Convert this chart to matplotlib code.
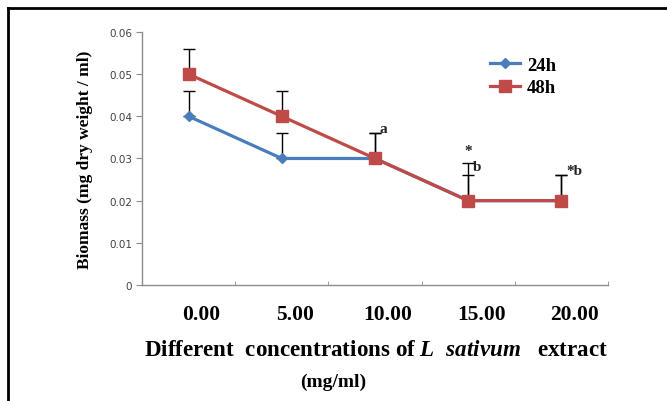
import matplotlib
matplotlib.use('Agg')
import matplotlib.pyplot as plt
import matplotlib.transforms as mtransforms
from matplotlib.lines import Line2D

# data
concentrations = ['0.00', '5.00', '10.00', '15.00', '20.00']
biomass_24h = [0.040, 0.030, 0.030, 0.020, 0.020]
biomass_48h = [0.050, 0.040, 0.030, 0.020, 0.020]
err_24h = [0.006, 0.006, 0.006, 0.009, 0.006]
err_48h = [0.006, 0.006, 0.006, 0.006, 0.006]
letters = [(2, 'a', 0.0372), (3, '*', 0.0318), (3, 'b', 0.0282), (4, '*b', 0.0272)]

serif = ['Liberation Serif', 'DejaVu Serif']
plt.rcParams['mathtext.fontset'] = 'custom'
plt.rcParams['mathtext.it'] = 'Liberation Serif:italic:bold'
plt.rcParams['mathtext.rm'] = 'Liberation Serif:bold'

fig = plt.figure(figsize=(6.67, 4.02), dpi=100)
ax = fig.add_axes([0.2129, 0.2886, 0.6986, 0.6294])

x = [i + 0.5 for i in range(len(concentrations))]

# upward-only error bars
ax.errorbar(x, biomass_24h, yerr=[[0] * 5, err_24h], fmt='none', ecolor='black',
            elinewidth=1, capsize=4, capthick=1, zorder=2)
ax.errorbar(x, biomass_48h, yerr=[[0] * 5, err_48h], fmt='none', ecolor='black',
            elinewidth=1, capsize=4, capthick=1, zorder=2)

ax.plot(x, biomass_24h, color='#4a7ebb', lw=2.3, marker='D', ms=5, label='24h', zorder=3)
ax.plot(x, biomass_48h, color='#be4b48', lw=2.3, marker='s', ms=8, label='48h', zorder=4)

# significance letters
for i, txt, yv in letters:
    dx = 0.05 if txt != '*' else 0.0
    ax.text(x[i] + dx, yv, txt, family=serif, fontweight='bold', fontsize=11,
            ha='left' if txt != '*' else 'center', va='center', color='#222222')

ax.set_xlim(0, 5)
ax.set_ylim(0, 0.06)
ax.set_yticks([0, 0.01, 0.02, 0.03, 0.04, 0.05, 0.06])
ax.set_yticklabels(['0', '0.01', '0.02', '0.03', '0.04', '0.05', '0.06'])
ax.tick_params(axis='y', length=4, color='#8c8c8c', labelsize=7.5, labelcolor='#404048', pad=3)

ax.set_xticks(x)
ax.set_xticklabels(concentrations, family=serif, fontweight='bold', fontsize=15.5)
ax.set_xticks(range(6), minor=True)
ax.tick_params(axis='x', which='major', length=0, pad=14)
ax.tick_params(axis='x', which='minor', direction='in', length=3, color='#8c8c8c')
offset = mtransforms.ScaledTranslation(0.13, 0, fig.dpi_scale_trans)
for lbl in ax.get_xticklabels():
    lbl.set_transform(lbl.get_transform() + offset)

for side in ['top', 'right']:
    ax.spines[side].set_visible(False)
for side in ['left', 'bottom']:
    ax.spines[side].set_color('#8c8c8c')
    ax.spines[side].set_linewidth(1)

ax.set_ylabel('Biomass (mg dry weight / ml)', family=serif, fontweight='bold', fontsize=12.5)
ax.yaxis.set_label_coords(-0.105, 0.5)

leg = ax.legend(loc='upper left', bbox_to_anchor=(0.71, 0.97), frameon=False,
                prop={'family': serif, 'weight': 'bold', 'size': 13.5},
                handlelength=1.6, handletextpad=0.4, labelspacing=0.3)

fig.text(0.5645, 0.129, 'Different  concentrations of $\\mathit{L}\\ \\ \\mathit{sativum}$   extract',
         family=serif, fontweight='bold', fontsize=16.6, ha='center', va='center')
fig.text(0.5, 0.05, '(mg/ml)', family=serif, fontweight='bold', fontsize=14,
         ha='center', va='center')

# outer frame on left and top
fig.add_artist(Line2D([7.5 / 667, 7.5 / 667], [0, 1 - 8.5 / 402], color='black', lw=2,
                      transform=fig.transFigure))
fig.add_artist(Line2D([7.5 / 667, 1], [1 - 8.5 / 402, 1 - 8.5 / 402], color='black', lw=2,
                      transform=fig.transFigure))

fig.savefig('out.png', dpi=100)
